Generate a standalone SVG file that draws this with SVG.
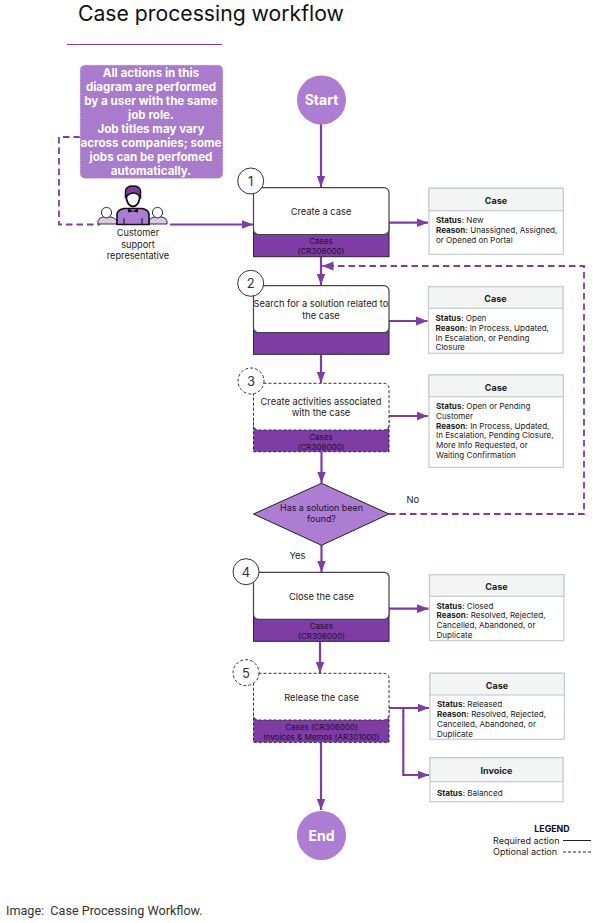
<svg xmlns="http://www.w3.org/2000/svg" width="597" height="923" viewBox="0 0 597 923">
<style>
text{font-family:Inter,"Liberation Sans",sans-serif;fill:#222}
.c{text-anchor:middle}
.l{font-size:9.3px}
.b{font-size:8px;fill:#1c1030}
.s{font-size:8.05px}
.h{font-size:9px;font-weight:700;text-anchor:middle}
.s tspan{font-weight:700}
.n{font-size:11.6px;font-weight:700;text-anchor:middle;fill:#fff}
.w{fill:#fff;stroke:#444;stroke-width:1.2}
.wd{fill:#fff;stroke:#333;stroke-width:1;stroke-dasharray:3 2}
.band{fill:#7f3ca5;stroke:#2a2030;stroke-width:1}
.bandd{fill:#7f3ca5;stroke:#2a2030;stroke-width:1;stroke-dasharray:3 2}
.num{fill:#fff;stroke:#333;stroke-width:1}
.numd{fill:#fff;stroke:#333;stroke-width:1;stroke-dasharray:3 2}
.nt{font-size:13px;text-anchor:middle;fill:#333}
.box{fill:#fff;stroke:#c6cbcb;stroke-width:1.2}
.hdr{fill:#f3f4f4;stroke:#c6cbcb;stroke-width:1.2}
.cir{fill:#ac7dd2}
.ct{font-size:14px;font-weight:700;fill:#fff;text-anchor:middle}
.a{fill:none;stroke:#7f3ca8;stroke-width:2.2;marker-end:url(#ah)}
.d{fill:none;stroke:#7f3ca8;stroke-width:1.8;stroke-dasharray:6.5 4}
.dm{marker-end:url(#ah)}
</style>
<defs>
<marker id="ah" markerUnits="userSpaceOnUse" markerWidth="13" markerHeight="10" refX="11.5" refY="5" orient="auto">
<path d="M0 .6L11.5 5L0 9.4Z" fill="#7f3ca8"/>
</marker>
</defs>

<g id="title">
<text x="78" y="21" style="font-size:21.2px;fill:#111">Case processing workflow</text>
<path d="M67 44.500H222" stroke="#7f3ca8" stroke-width="1.200"/>
</g>

<g id="connectors">
<path class="a" d="M321 124V187"/>
<path class="a" d="M170 224.500H253"/>
<path class="d" d="M80 137H59V224.500H100"/>
<path class="a" d="M321 257V285"/>
<path class="a" d="M321 355V383"/>
<path class="a" d="M321.500 452V483"/>
<path class="a" d="M321.500 545V572"/>
<path class="a" d="M320 642V673"/>
<path class="a" d="M321 742.500V810"/>
<path class="a" d="M389 222.700H428"/>
<path class="a" d="M389 321H427.500"/>
<path class="a" d="M389 416H428"/>
<path class="a" d="M389 608.700H428.500"/>
<path class="a" d="M389 708H429"/>
<path class="a" d="M403.300 708V775H429"/>
<path class="d dm" d="M389 514H584V266H322"/>
</g>

<g id="note">
<rect x="80" y="65" width="143" height="113.500" rx="5" fill="#a97bcd" stroke="#e4d6f0" stroke-width="1" stroke-dasharray="1.500 1.500"/>
<text class="n" x="151" y="77">All actions in this</text>
<text class="n" x="151" y="91">diagram are performed</text>
<text class="n" x="151" y="105">by a user with the same</text>
<text class="n" x="151" y="119">job role.</text>
<text class="n" x="151" y="133">Job titles may vary</text>
<text class="n" x="151" y="147">across companies; some</text>
<text class="n" x="151" y="161">jobs can be perfomed</text>
<text class="n" x="151" y="175">automatically.</text>
</g>

<g id="actor">
<g stroke="#333" stroke-width="1">
<path d="M98 224V221Q99 217.500 103 217L111 217Q115 217.500 117 221V224Z" fill="#d9cbe4"/>
<path d="M149 224V221Q150 217.500 154 217L162 217Q166 217.500 167 221V224Z" fill="#d9cbe4"/>
<path d="M101.500 212Q102 207.500 106.500 207.500Q111 207.500 111.500 212V214Q110 218 106.500 218Q103 218 101.500 214Z" fill="#fff"/>
<path d="M152.500 212Q153 207.500 157.500 207.500Q162 207.500 162.500 212V214Q161 218 157.500 218Q154 218 152.500 214Z" fill="#fff"/>
</g>
<path d="M117 224.500V214Q118 209.500 124 208.500L142 208.500Q148 209.500 149 214V224.500Z" fill="#ac7dd2" stroke="#111" stroke-width="1.600"/>
<path d="M126.500 192V199Q128 206 133 206.500Q138 206 139.500 199V192Z" fill="#fff" stroke="#111" stroke-width="1.800"/>
<path d="M125.500 197V191Q126 186 133 186Q140 186 140.500 191V197Q134 189 125.500 197Z" fill="#7f3ca8" stroke="#111" stroke-width="1.500"/>
<path d="M128 208.500L133 211L138 208.500V212.500L133 211.500L128 212.500Z" fill="#111"/>
<path d="M124 224V218M142 224V218" stroke="#111" stroke-width="1"/>
<text class="c" x="138" y="236" style="font-size:9.200px">Customer</text>
<text class="c" x="138" y="248" style="font-size:9.200px">support</text>
<text class="c" x="138" y="259" style="font-size:9.200px">representative</text>
</g>

<g id="start"><circle class="cir" cx="321.500" cy="100" r="24.500"/><text class="ct" x="321.500" y="105">Start</text></g>

<g id="step1">
<rect class="band" x="253.500" y="225" width="135.500" height="31.700"/>
<rect class="w" x="253.500" y="187.700" width="135.500" height="46.800" rx="5"/>
<text class="l c" x="321" y="215">Create a case</text>
<text class="b c" x="321" y="244">Cases</text>
<text class="b c" x="321" y="254">(CR306000)</text>
<circle class="num" cx="250.700" cy="181" r="13"/><text class="nt" x="250.700" y="186">1</text>
</g>

<g id="step2">
<rect class="band" x="253.500" y="323" width="135.500" height="31.300"/>
<rect class="w" x="253.500" y="285.700" width="135.500" height="47" rx="5"/>
<text class="l c" x="321" y="307">Search for a solution related to</text>
<text class="l c" x="321" y="319">the case</text>
<circle class="num" cx="250.700" cy="283.300" r="13"/><text class="nt" x="250.700" y="288.300">2</text>
</g>

<g id="step3">
<rect class="bandd" x="253.500" y="420" width="135.500" height="31.700"/>
<rect class="wd" x="253.500" y="383.300" width="135.500" height="46.700" rx="5"/>
<text class="l c" x="321" y="405">Create activities associated</text>
<text class="l c" x="321" y="416">with the case</text>
<text class="b c" x="321" y="440">Cases</text>
<text class="b c" x="321" y="450">(CR306000)</text>
<circle class="numd" cx="251" cy="381" r="13"/><text class="nt" x="251" y="386">3</text>
</g>

<g id="decision">
<path d="M321.500 483.300L389 514L321.500 545.300L253.500 514Z" fill="#ac7dd2" stroke="#222" stroke-width="1"/>
<text class="c" x="321.500" y="511" style="font-size:8.900px;fill:#1c1030">Has a solution been</text>
<text class="c" x="321.500" y="522" style="font-size:8.900px;fill:#1c1030">found?</text>
<text class="l" x="406.500" y="503">No</text>
<text class="l" x="289.500" y="559">Yes</text>
</g>

<g id="step4">
<rect class="band" x="253.500" y="610" width="135.500" height="31.300"/>
<rect class="w" x="253.500" y="572.300" width="135.500" height="47" rx="5"/>
<text class="l c" x="321.500" y="600">Close the case</text>
<text class="b c" x="321.500" y="629">Cases</text>
<text class="b c" x="321.500" y="639">(CR306000)</text>
<circle class="num" cx="246" cy="571.700" r="13"/><text class="nt" x="246" y="576.700">4</text>
</g>

<g id="step5">
<rect class="bandd" x="253.500" y="710" width="135.500" height="32.300"/>
<rect class="wd" x="253.500" y="673.300" width="135.500" height="46.700" rx="5"/>
<text class="l c" x="321.500" y="700.500">Release the case</text>
<text class="b c" x="321.500" y="730">Cases (CR306000)</text>
<text class="b c" x="321.500" y="740">Invoices &amp; Memos (AR301000)</text>
<circle class="numd" cx="246" cy="672.700" r="13"/><text class="nt" x="246" y="677.700">5</text>
</g>

<g id="end"><circle class="cir" cx="321.500" cy="835.500" r="24.500"/><text class="ct" x="321.500" y="840.500">End</text></g>

<g id="status1">
<rect class="box" x="429" y="188.300" width="134.300" height="66"/>
<rect class="hdr" x="429" y="188.300" width="134.300" height="22.400"/>
<text class="h" x="496" y="204">Case</text>
<text class="s" x="436" y="223"><tspan>Status:</tspan> New</text>
<text class="s" x="436" y="232.500"><tspan>Reason:</tspan> Unassigned, Assigned,</text>
<text class="s" x="436" y="242.500">or Opened on Portal</text>
</g>
<g id="status2">
<rect class="box" x="428.500" y="286.700" width="134.500" height="66.600"/>
<rect class="hdr" x="428.500" y="286.700" width="134.500" height="21.600"/>
<text class="h" x="495.500" y="302">Case</text>
<text class="s" x="435.500" y="321"><tspan>Status:</tspan> Open</text>
<text class="s" x="435.500" y="330.500"><tspan>Reason:</tspan> In Process, Updated,</text>
<text class="s" x="435.500" y="340.500">In Escalation, or Pending</text>
<text class="s" x="435.500" y="350">Closure</text>
</g>
<g id="status3">
<rect class="box" x="429" y="375" width="134.300" height="92.300"/>
<rect class="hdr" x="429" y="375" width="134.300" height="21.700"/>
<text class="h" x="496" y="390.500">Case</text>
<text class="s" x="436" y="409"><tspan>Status:</tspan> Open or Pending</text>
<text class="s" x="436" y="418.500">Customer</text>
<text class="s" x="436" y="428.500"><tspan>Reason:</tspan> In Process, Updated,</text>
<text class="s" x="436" y="438">In Escalation, Pending Closure,</text>
<text class="s" x="436" y="448">More Info Requested, or</text>
<text class="s" x="436" y="457.500">Waiting Confirmation</text>
</g>
<g id="status4">
<rect class="box" x="429.500" y="574.700" width="134.300" height="66"/>
<rect class="hdr" x="429.500" y="574.700" width="134.300" height="21.600"/>
<text class="h" x="496.500" y="590">Case</text>
<text class="s" x="436.500" y="608.500"><tspan>Status:</tspan> Closed</text>
<text class="s" x="436.500" y="618"><tspan>Reason:</tspan> Resolved, Rejected,</text>
<text class="s" x="436.500" y="628">Cancelled, Abandoned, or</text>
<text class="s" x="436.500" y="637.500">Duplicate</text>
</g>
<g id="status5">
<rect class="box" x="430" y="673.300" width="134.300" height="66"/>
<rect class="hdr" x="430" y="673.300" width="134.300" height="21.700"/>
<text class="h" x="497" y="689">Case</text>
<text class="s" x="437" y="707"><tspan>Status:</tspan> Released</text>
<text class="s" x="437" y="717"><tspan>Reason:</tspan> Resolved, Rejected,</text>
<text class="s" x="437" y="727">Cancelled, Abandoned, or</text>
<text class="s" x="437" y="736.500">Duplicate</text>
</g>
<g id="invoice">
<rect class="box" x="430" y="757.700" width="133" height="44"/>
<rect class="hdr" x="430" y="757.700" width="133" height="24"/>
<text class="h" x="496.500" y="773.500">Invoice</text>
<text class="s" x="437" y="796"><tspan>Status:</tspan> Balanced</text>
</g>

<g id="legend">
<text x="552" y="832" class="c" style="font-size:8.800px;font-weight:700;fill:#111">LEGEND</text>
<text x="493" y="843.500" style="font-size:9px">Required action</text>
<text x="493" y="855" style="font-size:9px">Optional action</text>
<path d="M563 840.500H591" stroke="#222" stroke-width="1"/>
<path d="M563 852H591" stroke="#222" stroke-width="1" stroke-dasharray="3 2"/>
</g>

<text x="6" y="915" style="font-size:12.600px;fill:#333;font-family:Roboto,sans-serif">Image:&#160; Case Processing Workflow.</text>
</svg>
